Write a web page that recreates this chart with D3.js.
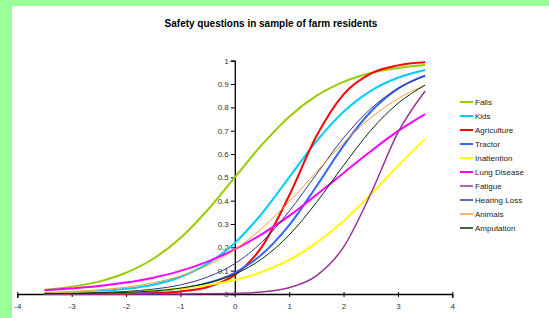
<!DOCTYPE html>
<html>
<head>
<meta charset="utf-8">
<script src="https://cdn.jsdelivr.net/npm/d3@7"></script>
<style>
  body { margin: 0; background: #99ff99; }
  svg { display: block; font-family: "Liberation Sans", Arial, sans-serif; }
</style>
</head>
<body>
<div id="chart"></div>
<script>
// Ability values where the curves were read
const abilities = [-3.5, -3, -2.5, -2, -1.5, -1, -0.5, 0, 0.5, 1, 1.5, 2, 2.5, 3, 3.5];

// Probability
const falls = [0.018, 0.031, 0.053, 0.091, 0.151, 0.240, 0.360, 0.500, 0.640, 0.760, 0.849, 0.909, 0.947, 0.969, 0.982];
const kids = [0.003, 0.006, 0.012, 0.022, 0.040, 0.073, 0.130, 0.219, 0.346, 0.500, 0.654, 0.781, 0.871, 0.927, 0.960];
const agriculture = [0.0001, 0.0002, 0.0005, 0.0013, 0.004, 0.011, 0.030, 0.082, 0.203, 0.422, 0.676, 0.856, 0.945, 0.980, 0.993];
const tractor = [0.0007, 0.0014, 0.003, 0.006, 0.012, 0.023, 0.047, 0.091, 0.170, 0.295, 0.461, 0.636, 0.781, 0.880, 0.937];
const inattention = [0.002, 0.003, 0.006, 0.009, 0.015, 0.024, 0.038, 0.060, 0.095, 0.146, 0.219, 0.313, 0.427, 0.549, 0.665];
const lungDisease = [0.016, 0.024, 0.034, 0.049, 0.070, 0.099, 0.139, 0.191, 0.257, 0.335, 0.425, 0.519, 0.612, 0.698, 0.771];
const fatigue = [0, 0, 0, 0, 0.0001, 0.0004, 0.001, 0.003, 0.009, 0.027, 0.078, 0.201, 0.429, 0.692, 0.870];
const hearingLoss = [0.002, 0.003, 0.006, 0.011, 0.021, 0.039, 0.073, 0.130, 0.223, 0.355, 0.513, 0.669, 0.794, 0.881, 0.934];
const animals = [0.006, 0.011, 0.018, 0.029, 0.048, 0.077, 0.123, 0.190, 0.282, 0.396, 0.523, 0.648, 0.755, 0.837, 0.896];
const amputation = [0.001, 0.002, 0.004, 0.007, 0.013, 0.025, 0.047, 0.085, 0.151, 0.253, 0.392, 0.551, 0.701, 0.817, 0.895];

const seriesNames = ["Falls", "Kids", "Agriculture", "Tractor", "Inattention", "Lung Disease", "Fatigue", "Hearing Loss", "Animals", "Amputation"];
const seriesValues = [falls, kids, agriculture, tractor, inattention, lungDisease, fatigue, hearingLoss, animals, amputation];
const colours = ["#99cc00", "#00ccff", "#ff0000", "#3366ff", "#ffff00", "#ff00ff", "#993399", "#333399", "#ff9933", "#003300"];
const widths = [2, 2, 2, 2, 2, 2, 1.5, 1, 1, 1];

const xTicks = [-4, -3, -2, -1, 0, 1, 2, 3, 4];
const yTicks = [0, 0.1, 0.2, 0.3, 0.4, 0.5, 0.6, 0.7, 0.8, 0.9, 1];

const W = 549, H = 318;

const svg = d3.select("#chart")
  .append("svg")
  .attr("width", W)
  .attr("height", H);

// white panel inside the green frame
svg.append("rect")
  .attr("x", 12).attr("y", 6)
  .attr("width", W - 12).attr("height", H - 6)
  .attr("fill", "#fff");

svg.append("text")
  .attr("x", 271).attr("y", 27)
  .attr("text-anchor", "middle")
  .style("font-size", "10px")
  .style("font-weight", "bold")
  .text("Safety questions in sample of farm residents");

// Scales
const x = d3.scaleLinear().domain([-4, 4]).range([17.3, 452.3]);
const y = d3.scaleLinear().domain([0, 1]).range([294, 60.7]);

// Axes
const xAxis = svg.append("g")
  .attr("transform", "translate(0," + y(0) + ")")
  .call(d3.axisBottom(x).tickValues(xTicks).tickSize(4).tickFormat(d => String(d)));
xAxis.selectAll(".tick line").attr("y1", -2).attr("y2", 3);

const yAxis = svg.append("g")
  .attr("transform", "translate(" + x(0) + ",0)")
  .call(d3.axisLeft(y).tickValues(yTicks).tickSize(4).tickFormat(d => String(d)));

[xAxis, yAxis].forEach(ax => {
  ax.select(".domain").attr("stroke", "#000").attr("stroke-width", 1.3);
  ax.selectAll(".tick line").attr("stroke", "#000");
  ax.selectAll(".tick text")
    .attr("fill", "#333")
    .style("font-size", "8px")
    .style("font-family", "Liberation Sans, Arial, sans-serif");
});
xAxis.selectAll(".tick text").attr("dy", "0.35em").attr("y", 12);
yAxis.selectAll(".tick text").attr("x", -6);

// Curves
const line = d3.line()
  .x((d, i) => x(abilities[i]))
  .y(d => y(d))
  .curve(d3.curveMonotoneX);

svg.append("g")
  .selectAll("path")
  .data(seriesValues)
  .enter()
  .append("path")
  .attr("d", d => line(d))
  .attr("fill", "none")
  .attr("stroke", (d, i) => colours[i])
  .attr("stroke-width", (d, i) => widths[i]);

// Legend
const legend = svg.append("g")
  .selectAll("g")
  .data(seriesNames)
  .enter()
  .append("g")
  .attr("transform", (d, i) => "translate(460," + (102 + i * 14) + ")");

legend.append("line")
  .attr("x1", 0).attr("x2", 13)
  .attr("stroke", (d, i) => colours[i])
  .attr("stroke-width", (d, i) => Math.max(widths[i], 1.5));

legend.append("text")
  .attr("x", 15)
  .attr("dy", "0.35em")
  .attr("fill", "#222")
  .style("font-size", "8px")
  .text(d => d);
</script>
</body>
</html>
